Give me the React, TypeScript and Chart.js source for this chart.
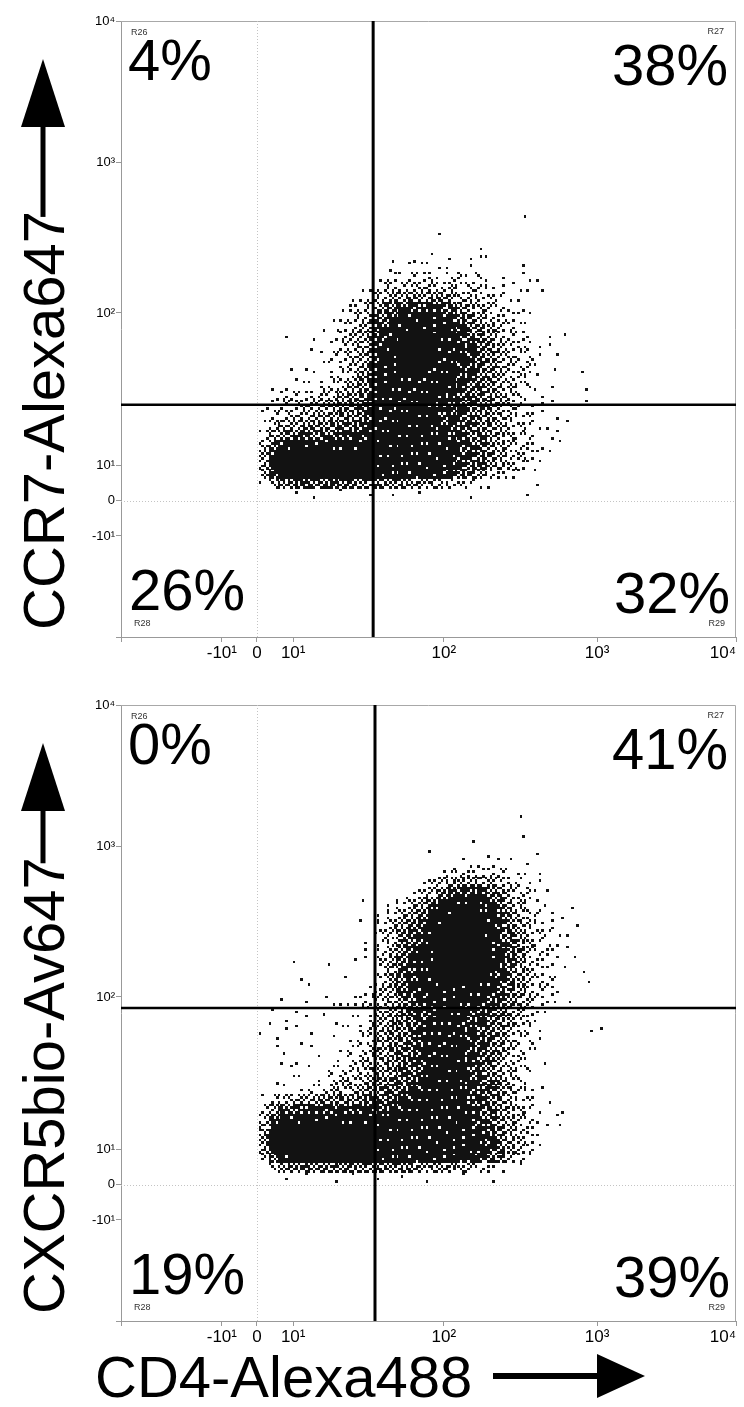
import React, { useEffect, useRef } from "react";
import { Chart, registerables } from "chart.js";

Chart.register(...registerables);

const FONT = '"Liberation Sans", Arial, Helvetica, sans-serif';
const DOT_COLOR = "#121212";

// Axis channels (0..1000 display channels) and their labels
const X_TICK_VALUES = [0, 164, 221, 280, 525, 774, 1000];
const Y_TICK_VALUES = [0, 164, 221, 279, 526, 770, 1000];
const TICK_LABELS = ["", "-10¹", "0", "10¹", "10²", "10³", "10⁴"];
const ZERO_CHANNEL = 221;

// Density grid: cells of 16 channels starting at channel 224; digit = event density level (0..9)
const GRID_ORIGIN = 224;
const CELL = 16;

// Top panel (CCR7 vs CD4), rows from top (highest) to bottom
const TOP_DENSITY = [
  "000000 000000 000000 000000 000100 000000",
  "000000 000000 000000 000000 000000 000000",
  "000000 000000 000000 100000 000000 000000",
  "000000 000000 000000 000010 000000 000000",
  "000000 000000 010101 010111 000000 000000",
  "000000 000000 010111 110100 001000 000000",
  "000000 000000 121222 122121 101110 000000",
  "000000 000011 232333 332322 111110 000000",
  "000000 000112 344545 543332 211000 000000",
  "000000 001223 567777 765433 211000 000000",
  "000000 011234 678888 876543 221100 000000",
  "000000 102235 788888 887654 321100 000000",
  "001001 012345 788998 887654 322101 010000",
  "000001 012345 889999 888765 332211 000000",
  "000000 122346 889999 888765 432210 100000",
  "000110 112346 889998 887765 432210 100000",
  "000101 022356 888888 887765 432210 001000",
  "011011 223456 888888 887665 432211 000100",
  "012222 334557 888888 877665 432110 000000",
  "112233 445567 888888 777665 432111 000100",
  "122334 445567 888888 777655 432210 100000",
  "134455 556667 888888 777655 432211 010000",
  "245666 667778 888888 877665 432201 100000",
  "368888 888888 888888 887765 432210 100000",
  "489999 999999 888888 887765 433211 000000",
  "489999 999999 888888 887665 432110 000000",
  "379999 999999 888888 876543 221010 000000",
  "135666 666655 555444 332211 000010 000000",
  "000101 001001 010010 000100 000100 000000",
];

// Bottom panel (CXCR5 vs CD4)
const BOTTOM_DENSITY = [
  "000000 000000 000000 000000 000000 000000",
  "000000 000000 000000 000000 001000 000000",
  "000000 000000 000000 000000 000000 000000",
  "000000 000000 000000 000000 001000 000000",
  "000000 000000 000000 000100 000000 000000",
  "000000 000000 000001 000001 000010 000000",
  "000000 000000 000000 001111 110100 000000",
  "000000 000000 000000 122222 211110 000000",
  "000000 000000 000012 344444 322110 000000",
  "000000 000000 000123 567776 532211 000000",
  "000000 000010 012346 788887 643211 000000",
  "000000 000000 123457 889988 753221 010000",
  "000000 000010 234568 899998 754321 101000",
  "000000 000001 235678 999998 764322 110000",
  "000000 000010 235678 999998 764321 100000",
  "000000 000010 235788 999998 865322 010000",
  "000100 010110 346788 999998 865321 101000",
  "000000 000000 246788 999998 764321 010100",
  "000011 001001 246788 899988 764322 100100",
  "000000 000012 346788 888888 754322 100000",
  "001010 111222 345678 888887 654321 110000",
  "010100 100012 345677 888776 543211 000000",
  "011010 010112 455677 888776 543210 000000",
  "101101 001123 455678 888766 542210 000110",
  "010010 010123 455678 888776 532210 000000",
  "011001 001223 456678 888766 532110 000000",
  "001100 101233 456678 888776 432101 000000",
  "000101 022234 456678 888765 432200 000000",
  "010110 123334 556778 888776 532100 000000",
  "001012 233345 566778 888776 542210 000000",
  "123344 555566 677788 888776 532201 000000",
  "246677 777777 777888 888776 543210 100000",
  "368888 888888 888888 888876 543210 100000",
  "489999 999999 888888 888877 543201 100000",
  "599999 999999 888888 888887 643210 000000",
  "489999 999999 888888 888887 643210 000000",
  "268999 999999 888888 888876 532100 000000",
  "024555 555555 555544 443322 101000 000000",
  "001010 010100 101001 001001 000000 000000",
];

// Quadrant gates (channels) for [top, bottom]
const GATE_X = [410, 413];
const GATE_Y = [377, 508];

// Quadrant percentages: UL, UR, LL, LR
const TOP_PERCENTS = ["4%", "38%", "26%", "32%"];
const BOTTOM_PERCENTS = ["0%", "41%", "19%", "39%"];
const REGION_NAMES = ["R26", "R27", "R28", "R29"];

const Y_TITLES = ["CCR7-Alexa647", "CXCR5bio-Av647"];
const X_TITLE = "CD4-Alexa488";

type Cell = { x: number; y: number; v: number; k: number };

function cellsFrom(rows: string[]): Cell[] {
  const clean = rows.map((r) => r.replace(/\s+/g, ""));
  const n = clean.length;
  const out: Cell[] = [];
  clean.forEach((row, r) => {
    const j = n - 1 - r;
    for (let i = 0; i < row.length; i++) {
      const v = Number(row[i]);
      if (v > 0) {
        out.push({
          x: GRID_ORIGIN + CELL * i + CELL / 2,
          y: GRID_ORIGIN + CELL * j + CELL / 2,
          v,
          k: (i * 5 + j * 11) % 16,
        });
      }
    }
  });
  return out;
}

// Tile texture: 4x4 sub-dots per cell; level -> number of dots
const LEVEL_DOTS = [0, 1, 3, 5, 7, 9, 11, 13, 15, 16];
const DOT_ORDER = [5, 10, 0, 15, 3, 12, 6, 9, 1, 14, 11, 4, 8, 2, 13, 7];
const SUB_POS = [0, 2, 5, 7];
const SUB_SIZE = [2, 3, 2, 3];
let tileCache: HTMLCanvasElement[][] | null = null;
function getTiles(): HTMLCanvasElement[][] {
  if (tileCache) return tileCache;
  const T = 10;
  const all: HTMLCanvasElement[][] = [];
  for (let v = 0; v <= 9; v++) {
    const row: HTMLCanvasElement[] = [];
    for (let k = 0; k < 16; k++) {
      const c = document.createElement("canvas");
      c.width = T;
      c.height = T;
      const g = c.getContext("2d")!;
      g.fillStyle = DOT_COLOR;
      for (let n = 0; n < LEVEL_DOTS[v]; n++) {
        const p = DOT_ORDER[(n + k) % 16];
        const cx = p % 4;
        const cy = Math.floor(p / 4);
        g.fillRect(SUB_POS[cx], SUB_POS[cy], SUB_SIZE[cx], SUB_SIZE[cy]);
      }
      row.push(c);
    }
    all.push(row);
  }
  tileCache = all;
  return all;
}

function labelFor(values: number[], v: number): string {
  const idx = values.indexOf(v);
  return idx >= 0 ? TICK_LABELS[idx] : "";
}

type PanelSpec = {
  rows: string[];
  gateX: number;
  gateY: number;
  percents: string[];
  yTitle: string;
  showXTitle: boolean;
  height: number;
  top: number;
};

function makeDecor(p: PanelSpec) {
  return {
    id: "decor",
    beforeDatasetsDraw(chart: any) {
      const { ctx, chartArea: a, scales } = chart;
      ctx.save();
      ctx.strokeStyle = "#a8a8a8";
      ctx.lineWidth = 1;
      ctx.beginPath();
      ctx.moveTo(a.left, a.top + 0.5);
      ctx.lineTo(a.right - 0.5, a.top + 0.5);
      ctx.lineTo(a.right - 0.5, a.bottom);
      ctx.stroke();
      ctx.setLineDash([1, 2]);
      ctx.strokeStyle = "#c4c4c4";
      const zx = Math.round(scales.x.getPixelForValue(ZERO_CHANNEL)) + 0.5;
      const zy = Math.round(scales.y.getPixelForValue(ZERO_CHANNEL)) + 0.5;
      ctx.beginPath();
      ctx.moveTo(zx, a.top);
      ctx.lineTo(zx, a.bottom);
      ctx.moveTo(a.left, zy);
      ctx.lineTo(a.right, zy);
      ctx.stroke();
      ctx.restore();
      ctx.imageSmoothingEnabled = false;
    },
    afterDatasetsDraw(chart: any) {
      const { ctx, chartArea: a, scales } = chart;
      ctx.save();
      // gates
      const gx = scales.x.getPixelForValue(p.gateX);
      const gy = scales.y.getPixelForValue(p.gateY);
      ctx.strokeStyle = "#000";
      ctx.lineWidth = 3;
      ctx.beginPath();
      ctx.moveTo(gx, a.top);
      ctx.lineTo(gx, a.bottom);
      ctx.stroke();
      ctx.lineWidth = 2.5;
      ctx.beginPath();
      ctx.moveTo(a.left, gy);
      ctx.lineTo(a.right, gy);
      ctx.stroke();

      // percentages
      ctx.fillStyle = "#000";
      ctx.textBaseline = "alphabetic";
      ctx.font = `58px ${FONT}`;
      ctx.textAlign = "left";
      ctx.fillText(p.percents[0], a.left + 7, a.top + 59);
      ctx.fillText(p.percents[2], a.left + 8, a.bottom - 27);
      ctx.textAlign = "right";
      ctx.fillText(p.percents[1], a.right - 8, a.top + 64);
      ctx.fillText(p.percents[3], a.right - 6, a.bottom - 24);

      // region names
      ctx.font = `9px ${FONT}`;
      ctx.fillStyle = "#333";
      ctx.textAlign = "left";
      ctx.fillText(REGION_NAMES[0], a.left + 10, a.top + 14);
      ctx.fillText(REGION_NAMES[2], a.left + 13, a.bottom - 11);
      ctx.textAlign = "right";
      ctx.fillText(REGION_NAMES[1], a.right - 12, a.top + 13);
      ctx.fillText(REGION_NAMES[3], a.right - 11, a.bottom - 11);

      // Y title with arrow
      ctx.fillStyle = "#000";
      ctx.font = `58px ${FONT}`;
      const baseX = 64;
      const startY = a.bottom - 7;
      const w = ctx.measureText(p.yTitle).width;
      ctx.save();
      ctx.translate(baseX, startY);
      ctx.rotate(-Math.PI / 2);
      ctx.textAlign = "left";
      ctx.fillText(p.yTitle, 0, 0);
      ctx.restore();
      const ax = 43;
      const tipY = a.top + 38;
      const headBase = a.top + 106;
      ctx.lineWidth = 5;
      ctx.beginPath();
      ctx.moveTo(ax, startY - w + 6);
      ctx.lineTo(ax, headBase - 2);
      ctx.stroke();
      ctx.beginPath();
      ctx.moveTo(ax, tipY);
      ctx.lineTo(ax - 22, headBase);
      ctx.lineTo(ax + 22, headBase);
      ctx.closePath();
      ctx.fill();

      if (p.showXTitle) {
        ctx.textAlign = "left";
        ctx.font = `58px ${FONT}`;
        ctx.fillText(X_TITLE, 95, a.bottom + 76);
        const ay = a.bottom + 55;
        ctx.lineWidth = 6;
        ctx.beginPath();
        ctx.moveTo(493, ay);
        ctx.lineTo(600, ay);
        ctx.stroke();
        ctx.beginPath();
        ctx.moveTo(645, ay);
        ctx.lineTo(597, ay - 22);
        ctx.lineTo(597, ay + 22);
        ctx.closePath();
        ctx.fill();
      }
      ctx.restore();
    },
  };
}

function Panel({ spec }: { spec: PanelSpec }) {
  const ref = useRef<HTMLCanvasElement | null>(null);
  useEffect(() => {
    if (!ref.current) return;
    const tiles = getTiles();
    const cells = cellsFrom(spec.rows);
    const chart = new Chart(ref.current, {
      type: "scatter",
      data: {
        datasets: [
          {
            data: cells as any,
            pointStyle: (c: any) => {
              const r = c.raw as Cell | undefined;
              return r ? (tiles[r.v][r.k] as any) : "rect";
            },
            radius: 5,
            hoverRadius: 5,
            borderWidth: 0,
            backgroundColor: DOT_COLOR,
          } as any,
        ],
      },
      options: {
        animation: false,
        responsive: false,
        devicePixelRatio: 1,
        events: [],
        layout: { padding: { left: 0, top: 21, right: 8, bottom: spec.height - 677 } },
        plugins: { legend: { display: false }, tooltip: { enabled: false } },
        scales: {
          x: {
            type: "linear",
            min: 0,
            max: 1000,
            afterBuildTicks: (s: any) => {
              s.ticks = X_TICK_VALUES.map((value) => ({ value }));
            },
            afterFit: (s: any) => {
              s.height = 40;
              s.paddingLeft = 0;
              s.paddingRight = 0;
            },
            ticks: {
              autoSkip: false,
              maxRotation: 0,
              minRotation: 0,
              align: "inner",
              padding: 1,
              color: "#000",
              font: { family: FONT, size: 17 },
              callback: (v: any) => labelFor(X_TICK_VALUES, Number(v)),
            },
            grid: { drawOnChartArea: false, drawTicks: true, tickLength: 5, color: "#999" },
            border: { display: true, color: "#999" },
          },
          y: {
            type: "linear",
            min: 0,
            max: 1000,
            afterBuildTicks: (s: any) => {
              s.ticks = Y_TICK_VALUES.map((value) => ({ value }));
            },
            afterFit: (s: any) => {
              s.width = 121;
              s.paddingTop = 0;
              s.paddingBottom = 0;
            },
            ticks: {
              autoSkip: false,
              padding: 1,
              color: "#000",
              font: { family: FONT, size: 13 },
              callback: (v: any) => labelFor(Y_TICK_VALUES, Number(v)),
            },
            grid: { drawOnChartArea: false, drawTicks: true, tickLength: 5, color: "#999" },
            border: { display: true, color: "#999" },
          },
        },
      } as any,
      plugins: [makeDecor(spec) as any],
    });
    return () => chart.destroy();
  }, [spec]);
  return (
    <canvas
      ref={ref}
      width={744}
      height={spec.height}
      style={{ display: "block", position: "absolute", left: 0, top: spec.top }}
    />
  );
}

const PANELS: PanelSpec[] = [
  {
    rows: TOP_DENSITY,
    gateX: GATE_X[0],
    gateY: GATE_Y[0],
    percents: TOP_PERCENTS,
    yTitle: Y_TITLES[0],
    showXTitle: false,
    height: 684,
    top: 0,
  },
  {
    rows: BOTTOM_DENSITY,
    gateX: GATE_X[1],
    gateY: GATE_Y[1],
    percents: BOTTOM_PERCENTS,
    yTitle: Y_TITLES[1],
    showXTitle: true,
    height: 723,
    top: 684,
  },
];

export default function App() {
  return (
    <div style={{ position: "absolute", left: 0, top: 0, width: 744, height: 1407, background: "#fff" }}>
      {PANELS.map((p, i) => (
        <Panel key={i} spec={p} />
      ))}
    </div>
  );
}
